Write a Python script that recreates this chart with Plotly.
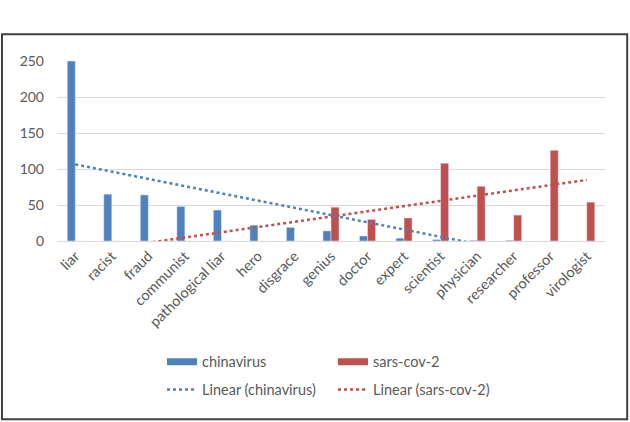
import numpy as np
import plotly.graph_objects as go

categories = ["liar", "racist", "fraud", "communist", "pathological liar", "hero",
              "disgrace", "genius", "doctor", "expert", "scientist", "physician",
              "researcher", "professor", "virologist"]
chinavirus = [250, 65, 64, 48, 43, 22, 19, 14, 7, 4, 2, 1, 1, 0, 0]
sarscov2 = [0, 0, 0, 0, 0, 0, 0, 47, 30, 32, 108, 76, 36, 126, 54]
y_ticks = [0, 50, 100, 150, 200, 250]

BLUE = "#4F81BD"
RED = "#C0504D"
GREY = "#595959"
FONT = "Lato"

idx = np.arange(1, len(categories) + 1)


def linear_fit(vals):
    m, b = np.polyfit(idx, np.array(vals, dtype=float), 1)
    return m * idx + b


fig = go.Figure()
fig.add_trace(go.Bar(x=categories, y=chinavirus, name="chinavirus",
                     marker_color=BLUE, showlegend=False))
fig.add_trace(go.Bar(x=categories, y=sarscov2, name="sars-cov-2",
                     marker_color=RED, showlegend=False))
fig.add_trace(go.Scatter(x=categories, y=linear_fit(chinavirus), mode="lines",
                         name="Linear (chinavirus)", legend="legend2",
                         line=dict(color=BLUE, width=2.5, dash="dot")))
fig.add_trace(go.Scatter(x=categories, y=linear_fit(sarscov2), mode="lines",
                         name="Linear (sars-cov-2)", legend="legend2",
                         line=dict(color=RED, width=2.5, dash="dot")))
# legend swatches for the bar series
fig.add_trace(go.Scatter(x=[None], y=[None], mode="lines", name="chinavirus",
                         legend="legend", line=dict(color=BLUE, width=7)))
fig.add_trace(go.Scatter(x=[None], y=[None], mode="lines", name="sars-cov-2",
                         legend="legend", line=dict(color=RED, width=7)))

leg_common = dict(orientation="h", x=0.1916, xanchor="left", yanchor="middle",
                  entrywidth=126, entrywidthmode="pixels",
                  font=dict(family=FONT, size=14.5, color=GREY),
                  bgcolor="rgba(0,0,0,0)")

fig.update_layout(
    width=630, height=422,
    margin=dict(l=57, r=25, t=61, b=181, autoexpand=False),
    paper_bgcolor="white", plot_bgcolor="white",
    font=dict(family=FONT, size=14, color=GREY),
    barmode="group", bargap=0.56, bargroupgap=0,
    legend=dict(y=-0.671, **leg_common),
    legend2=dict(y=-0.826, **leg_common),
    shapes=[dict(type="rect", xref="paper", yref="paper",
                 x0=-0.1004, x1=1.0405, y0=-0.990, y1=1.148,
                 line=dict(color="#404040", width=2), fillcolor="rgba(0,0,0,0)",
                 layer="below")],
)
fig.update_xaxes(type="category", tickangle=-45, showgrid=False, automargin=False,
                 showline=True, linecolor="#d9d9d9", linewidth=1,
                 tickfont=dict(family=FONT, size=14.5, color=GREY))
fig.update_yaxes(range=[0, 250], tickvals=y_ticks, showgrid=True, automargin=False,
                 gridcolor="#d9d9d9", gridwidth=1, zeroline=False,
                 ticklabelstandoff=12,
                 tickfont=dict(family=FONT, size=14, color=GREY))

fig.write_html("out.html", config={"displayModeBar": False},
               post_script="document.body.style.margin='0px';")
